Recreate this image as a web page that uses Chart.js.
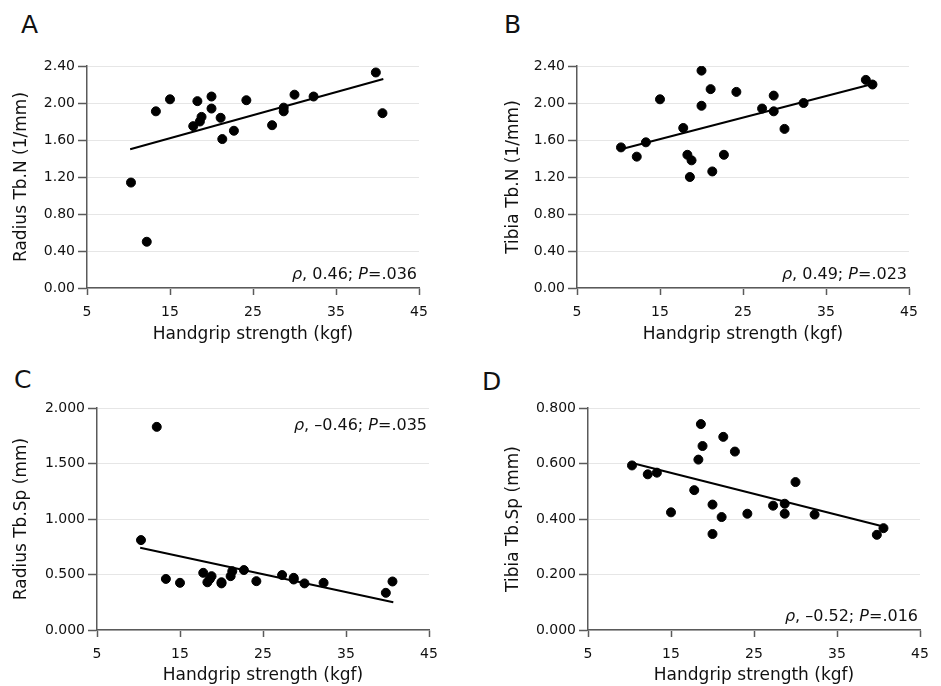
<!DOCTYPE html>
<html>
<head>
<meta charset="utf-8">
<script src="https://cdn.jsdelivr.net/npm/chart.js@4.4.1/dist/chart.umd.min.js"></script>
<style>
    body { margin: 0; background: #fff; }
    #wrap { position: relative; width: 941px; height: 686px; font-family: "DejaVu Sans", sans-serif; color: #111; }
    .box { position: absolute; }
    .letter { position: absolute; font-size: 25px; line-height: 25px; }
</style>
</head>
<body>
<div id="wrap">
    <div class="letter" style="left:21px;top:12px">A</div>
    <div class="letter" style="left:504px;top:12px">B</div>
    <div class="letter" style="left:14px;top:367px">C</div>
    <div class="letter" style="left:482px;top:369px">D</div>
    <div class="box" style="left:0;top:40px;width:470px;height:305px"><canvas id="chartA"></canvas></div>
    <div class="box" style="left:470px;top:40px;width:470px;height:305px"><canvas id="chartB"></canvas></div>
    <div class="box" style="left:0;top:382px;width:470px;height:304px"><canvas id="chartC"></canvas></div>
    <div class="box" style="left:470px;top:382px;width:470px;height:304px"><canvas id="chartD"></canvas></div>
</div>
<script>
// handgrip strength (kgf), same subjects in every panel
const handgrip = [10.3, 12.2, 13.3, 15.0, 17.8, 18.3, 18.6, 18.8, 20.0, 20.0, 21.1,
                  21.3, 22.7, 24.2, 27.3, 28.7, 28.7, 30.0, 32.3, 39.8, 40.6];

const radiusTbN = [1.14, 0.50, 1.91, 2.04, 1.75, 2.02, 1.80, 1.85, 2.07, 1.94, 1.84,
                   1.61, 1.70, 2.03, 1.76, 1.95, 1.91, 2.09, 2.07, 2.33, 1.89];
const tibiaTbN = [1.52, 1.42, 1.575, 2.04, 1.73, 1.44, 1.20, 1.38, 2.35, 1.97, 2.15,
                  1.26, 1.44, 2.12, 1.94, 2.08, 1.91, 1.72, 2.00, 2.25, 2.20];
const radiusTbSp = [0.81, 1.83, 0.46, 0.425, 0.515, 0.43, 0.46, 0.485, 0.42, 0.43, 0.485,
                    0.53, 0.54, 0.44, 0.495, 0.455, 0.47, 0.42, 0.425, 0.335, 0.437];
const tibiaTbSp = [0.593, 0.561, 0.567, 0.424, 0.504, 0.614, 0.742, 0.663, 0.452, 0.346, 0.407,
                   0.696, 0.643, 0.419, 0.448, 0.455, 0.419, 0.533, 0.416, 0.343, 0.367];

// fitted line end points [x], [y]
const fitX_A = [10.2, 40.7], fitY_A = [1.50, 2.26];
const fitX_B = [10.3, 40.6], fitY_B = [1.50, 2.205];
const fitX_C = [10.2, 40.7], fitY_C = [0.741, 0.25];
const fitX_D = [10.3, 40.7], fitY_D = [0.602, 0.372];

const statsA = ['0.46', '.036'];
const statsB = ['0.49', '.023'];
const statsC = ['\u20130.46', '.035'];
const statsD = ['\u20130.52', '.016'];

const xTitle = 'Handgrip strength (kgf)';
const FONT = '"DejaVu Sans", sans-serif';
const AXIS = '#5a5a5a';

function toPoints(xs, ys) {
    return xs.map((x, i) => ({ x: x, y: ys[i] }));
}

// draws "ρ, r; P=p" with italic rho and P
const statsPlugin = {
    id: 'stats',
    afterDraw(chart, args, opts) {
        const ctx = chart.ctx;
        const area = chart.chartArea;
        const parts = [
            ['italic', '\u03C1'], ['normal', ', ' + opts.r + '; '],
            ['italic', 'P'], ['normal', '=' + opts.p]
        ];
        ctx.save();
        ctx.fillStyle = '#111';
        ctx.textBaseline = 'alphabetic';
        let total = 0;
        parts.forEach(p => {
            ctx.font = p[0] + ' 16px ' + FONT;
            total += ctx.measureText(p[1]).width;
        });
        let x = area.right - opts.dx - total;
        const y = opts.top ? area.top + opts.dy : area.bottom - opts.dy;
        parts.forEach(p => {
            ctx.font = p[0] + ' 16px ' + FONT;
            ctx.fillText(p[1], x, y);
            x += ctx.measureText(p[1]).width;
        });
        ctx.restore();
    }
};

function makePanel(id, cfg) {
    return new Chart(document.getElementById(id), {
        type: 'scatter',
        data: {
            datasets: [{
                data: toPoints(handgrip, cfg.values),
                backgroundColor: '#000',
                borderColor: '#000',
                pointRadius: 4.5,
                pointHoverRadius: 4.5
            }, {
                type: 'line',
                data: toPoints(cfg.fitX, cfg.fitY),
                borderColor: '#000',
                borderWidth: 2,
                pointRadius: 0,
                fill: false
            }]
        },
        options: {
            responsive: true,
            maintainAspectRatio: false,
            animation: false,
            layout: { padding: { left: cfg.padLeft, top: 26, right: cfg.padRight, bottom: 0 } },
            plugins: {
                legend: { display: false },
                tooltip: { enabled: false },
                stats: { r: cfg.stats[0], p: cfg.stats[1], top: cfg.statsTop, dx: 2, dy: cfg.statsTop ? 22 : 9 }
            },
            scales: {
                x: {
                    type: 'linear',
                    min: 5, max: 45,
                    afterBuildTicks: s => { s.ticks = [5, 15, 25, 35, 45].map(v => ({ value: v })); },
                    afterFit: s => { s.height = cfg.xHeight; },
                    border: { color: AXIS, width: 1.5 },
                    grid: { drawOnChartArea: false, tickColor: AXIS, tickLength: 7, tickWidth: 1.5 },
                    ticks: { color: '#111', font: { family: FONT, size: 14 }, padding: 9, maxRotation: 0 },
                    title: { display: true, text: xTitle, color: '#111', font: { family: FONT, size: 17 }, padding: { top: 0, bottom: 0 } }
                },
                y: {
                    min: 0, max: cfg.yMax,
                    ticks: {
                        stepSize: cfg.yStep,
                        color: '#111',
                        font: { family: FONT, size: 14 },
                        padding: 3,
                        callback: v => v.toFixed(cfg.digits)
                    },
                    afterFit: s => { s.width = cfg.yWidth; },
                    border: { color: AXIS, width: 1.5 },
                    grid: { color: '#e6e6e6', lineWidth: 1, tickColor: AXIS, tickLength: 9, tickWidth: 1.5 },
                    title: { display: true, text: cfg.yTitle, color: '#111', font: { family: FONT, size: 17 }, padding: { top: 1, bottom: 0 } }
                }
            }
        },
        plugins: [statsPlugin]
    });
}

makePanel('chartA', {
    values: radiusTbN, fitX: fitX_A, fitY: fitY_A, stats: statsA, statsTop: false,
    yMax: 2.4, yStep: 0.4, digits: 2, yTitle: 'Radius Tb.N (1/mm)',
    padLeft: 10, yWidth: 77, padRight: 51, xHeight: 57
});
makePanel('chartB', {
    values: tibiaTbN, fitX: fitX_B, fitY: fitY_B, stats: statsB, statsTop: false,
    yMax: 2.4, yStep: 0.4, digits: 2, yTitle: 'Tibia Tb.N (1/mm)',
    padLeft: 32, yWidth: 75, padRight: 31, xHeight: 57
});
makePanel('chartC', {
    values: radiusTbSp, fitX: fitX_C, fitY: fitY_C, stats: statsC, statsTop: true,
    yMax: 2.0, yStep: 0.5, digits: 3, yTitle: 'Radius Tb.Sp (mm)',
    padLeft: 10, yWidth: 87, padRight: 41, xHeight: 56
});
makePanel('chartD', {
    values: tibiaTbSp, fitX: fitX_D, fitY: fitY_D, stats: statsD, statsTop: false,
    yMax: 0.8, yStep: 0.2, digits: 3, yTitle: 'Tibia Tb.Sp (mm)',
    padLeft: 32, yWidth: 86, padRight: 20, xHeight: 56
});
</script>
</body>
</html>
